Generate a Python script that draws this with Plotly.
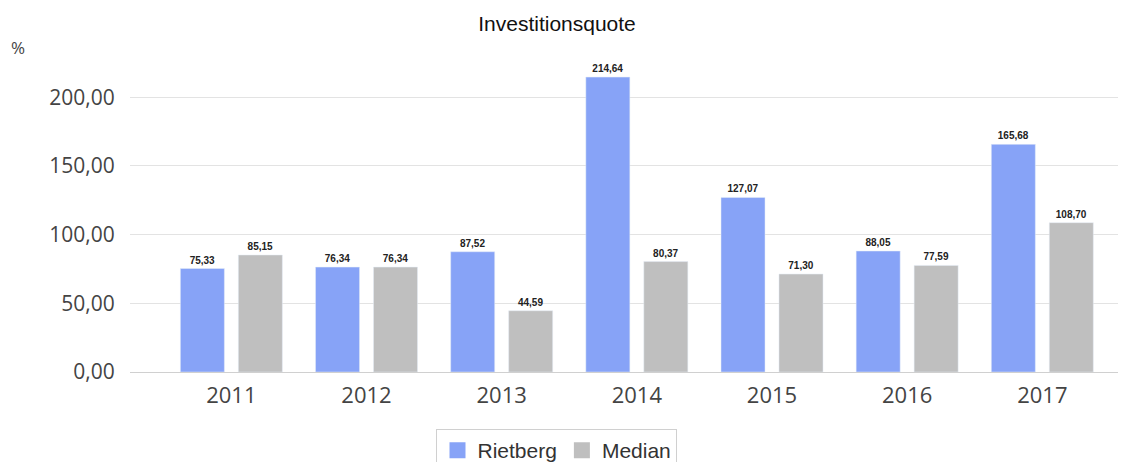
import plotly.graph_objects as go

years = ["2011", "2012", "2013", "2014", "2015", "2016", "2017"]
rietberg = [75.33, 76.34, 87.52, 214.64, 127.07, 88.05, 165.68]
median = [85.15, 76.34, 44.59, 80.37, 71.30, 77.59, 108.70]
y_ticks = [0, 50, 100, 150, 200]
series_names = ["Rietberg", "Median"]
series_colors = ["#87a3f7", "#bfbfbf"]

def fmt(v):
    return f"{v:.2f}".replace(".", ",")

# page body has an 8px margin, so the figure is drawn 8px smaller
W, H = 1128, 454

fig = go.Figure()
for name, vals, col in zip(series_names, [rietberg, median], series_colors):
    fig.add_trace(go.Bar(
        x=years, y=vals, name=name, marker_color=col, showlegend=False,
        text=[fmt(v) for v in vals], textposition="outside",
        textfont=dict(family="Liberation Sans", size=10, color="#222", weight="bold"),
        cliponaxis=False,
    ))
# legend entries with larger square swatches
for name, col in zip(series_names, series_colors):
    fig.add_trace(go.Scatter(
        x=[None], y=[None], mode="markers", name=name,
        marker=dict(symbol="square", size=16, color=col),
    ))

fig.update_layout(
    width=W, height=H,
    margin=dict(l=122, r=18, t=48, b=90, autoexpand=False),
    paper_bgcolor="white", plot_bgcolor="white",
    barmode="group", bargap=0.142, bargroupgap=0.241,
    separators=",.",
    title=dict(text="Investitionsquote", x=0.4867, xanchor="center", y=0.965, yanchor="middle",
               font=dict(family="Liberation Sans", size=21, color="#111")),
    showlegend=True,
    legend=dict(orientation="h", x=0.4867, xanchor="center", xref="container",
                y=0.0727, yanchor="top", yref="container",
                bordercolor="#d0d0d0", borderwidth=1, itemsizing="trace",
                font=dict(family="Liberation Sans", size=21, color="#333"),
                tracegroupgap=0, itemwidth=30),
    font=dict(family="Open Sans"),
)
fig.update_xaxes(
    type="category", range=[-0.75, 6.56], automargin=False,
    tickfont=dict(family="Open Sans", size=22, color="#444"),
    ticks="outside", ticklen=4, tickcolor="rgba(0,0,0,0)",
    showgrid=False, showline=False,
)
fig.update_yaxes(
    range=[0, 230], tickvals=y_ticks, tickformat=".2f", automargin=False,
    tickfont=dict(family="Open Sans", size=21, color="#444"),
    showgrid=True, gridcolor="#e3e3e3", gridwidth=1,
    zeroline=True, zerolinecolor="#d0d0d0", zerolinewidth=1,
    ticks="outside", ticklen=10, tickcolor="rgba(0,0,0,0)",
)
fig.add_annotation(text="%", xref="paper", yref="paper", x=-0.122, y=1.028,
                   xanchor="left", yanchor="middle", showarrow=False,
                   font=dict(family="Open Sans", size=17, color="#444"))

fig.write_html("out.html")
